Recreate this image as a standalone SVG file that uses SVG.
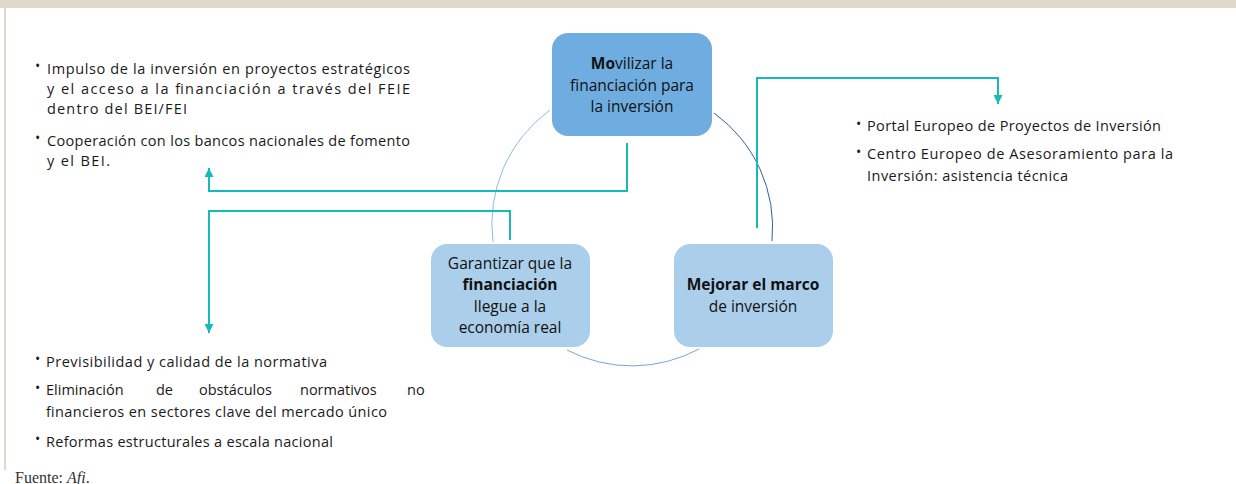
<svg xmlns="http://www.w3.org/2000/svg" width="1236" height="484" viewBox="0 0 1236 484">
<style>
.lst{font-family:"Open Sans","Liberation Sans",sans-serif;font-size:14.5px;fill:#1a1a1a}
.bul{font-family:"Open Sans","Liberation Sans",sans-serif;font-size:14px;fill:#1a1a1a}
.nt{font-family:"Open Sans","Liberation Sans",sans-serif;font-size:15.5px;fill:#111;text-anchor:middle}
.b{font-weight:700}
.conn{fill:none;stroke:#17b9b9;stroke-width:2}
.arc{fill:none;stroke-width:1}
.foot{font-family:"Liberation Serif",serif;font-size:16px;fill:#333}
</style>
<defs>
<marker id="ah" markerUnits="userSpaceOnUse" markerWidth="9" markerHeight="9" refX="9" refY="4.5" orient="auto">
<path d="M0,0 L9,4.5 L0,9 z" fill="#17b9b9"/>
</marker>
</defs>
<rect width="1236" height="484" fill="#fff"/>
<rect x="0" y="0" width="1236" height="8" fill="#e0d8cb"/>
<line x1="5" y1="8" x2="5" y2="470" stroke="#d6cdbd" stroke-width="1.5"/>

<g id="cycle">
<path class="arc" d="M550,110 A141,141 0 0,0 493,242" stroke="#8fbbe6"/>
<path class="arc" d="M714,113 A141,141 0 0,1 772,241" stroke="#2f62a3"/>
<path class="arc" d="M699,349 A141,141 0 0,1 567,350" stroke="#7aa3d6"/>
</g>

<g id="connectors">
<path class="conn" d="M627,143 V191 H209 V168" marker-end="url(#ah)"/>
<path class="conn" d="M510,240 V211 H209 V333" marker-end="url(#ah)"/>
<path class="conn" d="M757,228 V78 H998 V104" marker-end="url(#ah)"/>
</g>

<g id="node-movilizar">
<rect x="552" y="33" width="160" height="103" rx="16" fill="#6fade0"/>
<text class="nt" x="632" y="69"><tspan class="b">Mo</tspan>vilizar la</text>
<text class="nt" x="632" y="91">financiación para</text>
<text class="nt" x="632" y="112">la inversión</text>
</g>

<g id="node-garantizar">
<rect x="431" y="244" width="159" height="103" rx="16" fill="#abcfeb"/>
<text class="nt" x="510" y="269">Garantizar que la</text>
<text class="nt b" x="510" y="290">financiación</text>
<text class="nt" x="510" y="312">llegue a la</text>
<text class="nt" x="510" y="333">economía real</text>
</g>

<g id="node-mejorar">
<rect x="674" y="244" width="159" height="103" rx="16" fill="#abcfeb"/>
<text class="nt b" x="753" y="290">Mejorar el marco</text>
<text class="nt" x="753" y="312">de inversión</text>
</g>

<g id="list-financiacion">
<text class="bul" x="35" y="71">•</text>
<text class="lst" x="47" y="74" textLength="363" lengthAdjust="spacing">Impulso de la inversión en proyectos estratégicos</text>
<text class="lst" x="47" y="94" textLength="363" lengthAdjust="spacing">y el acceso a la financiación a través del FEIE</text>
<text class="lst" x="47" y="114" textLength="140" lengthAdjust="spacing">dentro del BEI/FEI</text>
<text class="bul" x="35" y="143">•</text>
<text class="lst" x="47" y="146" textLength="363" lengthAdjust="spacing">Cooperación con los bancos nacionales de fomento</text>
<text class="lst" x="47" y="166" textLength="63" lengthAdjust="spacing">y el BEI.</text>
</g>

<g id="list-marco">
<text class="bul" x="856" y="129">•</text>
<text class="lst" x="867" y="131" textLength="294" lengthAdjust="spacing">Portal Europeo de Proyectos de Inversión</text>
<text class="bul" x="856" y="157">•</text>
<text class="lst" x="867" y="159" textLength="306" lengthAdjust="spacing">Centro Europeo de Asesoramiento para la</text>
<text class="lst" x="867" y="181" textLength="201" lengthAdjust="spacing">Inversión: asistencia técnica</text>
</g>

<g id="list-economia">
<text class="bul" x="35" y="364">•</text>
<text class="lst" x="46" y="367" textLength="281" lengthAdjust="spacing">Previsibilidad y calidad de la normativa</text>
<text class="bul" x="35" y="393">•</text>
<text class="lst" y="395"><tspan x="46">Eliminación</tspan><tspan x="156">de</tspan><tspan x="199">obstáculos</tspan><tspan x="300">normativos</tspan><tspan x="407">no</tspan></text>
<text class="lst" x="46" y="417" textLength="341" lengthAdjust="spacing">financieros en sectores clave del mercado único</text>
<text class="bul" x="35" y="444">•</text>
<text class="lst" x="46" y="447" textLength="287" lengthAdjust="spacing">Reformas estructurales a escala nacional</text>
</g>

<text class="foot" x="15" y="483">Fuente: <tspan font-style="italic">Afi</tspan>.</text>
</svg>
